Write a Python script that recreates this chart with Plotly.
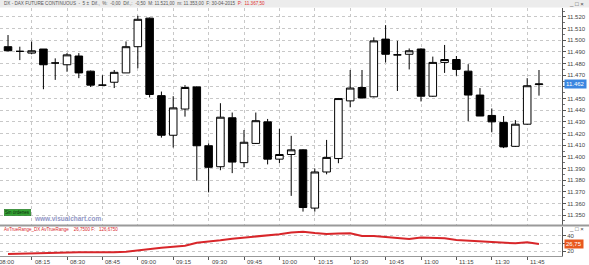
import plotly.graph_objects as go

# ---------------- data ----------------
opens  = [11494.5, 11490.5, 11489, 11492.5, 11480.5, 11479, 11486.5, 11473.5, 11461.5, 11464,
          11472, 11494.5, 11519, 11452.5, 11418.5, 11441, 11460, 11409.5, 11391.5, 11433.5,
          11395, 11411.5, 11430, 11398, 11402, 11406, 11356, 11387, 11398.5, 11448,
          11459.5, 11451.5, 11501, 11487.5, 11488, 11492.5, 11452, 11481, 11483.5, 11473.5,
          11453, 11435.5, 11429.5, 11409, 11428, 11462]
highs  = [11504.5, 11494.5, 11499, 11492.5, 11484.5, 11489, 11489, 11474, 11470, 11474.5,
          11499, 11521, 11519.5, 11456, 11452, 11461.5, 11460.5, 11411.5, 11446, 11438,
          11423, 11438, 11432.5, 11424, 11418, 11406.5, 11390, 11414.5, 11450.5, 11474.5,
          11474.5, 11502.5, 11513, 11499.5, 11493, 11493, 11486, 11496, 11486.5, 11479.5,
          11459, 11441.5, 11435, 11431.5, 11467.5, 11474.5]
lows   = [11490.5, 11483, 11488, 11458, 11466, 11473, 11467.5, 11460, 11461, 11459,
          11472, 11476, 11451, 11416.5, 11408, 11434.5, 11379.5, 11369.5, 11388.5, 11386,
          11391, 11411, 11393.5, 11394.5, 11366.5, 11353, 11353, 11385, 11394.5, 11442.5,
          11450.5, 11451, 11481, 11456.5, 11475, 11447.5, 11451.5, 11472, 11469.5, 11430.5,
          11435, 11421, 11407.5, 11408.5, 11427.5, 11452.5]
closes = [11491, 11490.5, 11491, 11479, 11480.5, 11487.5, 11472, 11461.5, 11461.5, 11472.5,
          11494.5, 11518, 11453.5, 11418.5, 11442, 11459.5, 11409.5, 11391, 11434, 11395.5,
          11412.5, 11431, 11398, 11402, 11406, 11356.5, 11387, 11399.5, 11450, 11459,
          11450.5, 11499.5, 11488, 11487.5, 11491, 11452, 11481, 11483.5, 11475, 11453,
          11435, 11430, 11408.5, 11428, 11461, 11462.5]
atr    = [16.1, 16.5, 17.0, 17.6, 18.2, 18.7, 18.5, 18.3, 18.0, 18.5,
          19.1, 21.0, 23.0, 24.2, 25.6, 26.9, 30.8, 32.2, 34.0, 36.1,
          37.4, 39.0, 40.5, 42.0, 44.2, 45.2, 43.5, 42.2, 42.9, 43.1,
          39.6, 39.6, 38.3, 37.0, 35.7, 37.6, 37.3, 36.6, 34.4, 33.7,
          33.1, 32.0, 31.1, 30.1, 31.4, 29.2]
time_labels = ["08:00", "08:15", "08:30", "08:45", "09:00", "09:15", "09:30", "09:45",
               "10:00", "10:15", "10:30", "10:45", "11:00", "11:15", "11:30", "11:45"]
price_ticks = list(range(11350, 11521, 10))

bars = list(range(len(opens)))
tick_pos = [-1 + 3 * k for k in range(len(time_labels))]

# ---------------- geometry helpers ----------------
W, H = 589, 265
L, R, T, B = 0, 27, 8, 9
PW, PH = W - L - R, H - T - B
xr = [-0.68, 46.95]


def px(x, y):
    return (x - L) / PW, (H - B - y) / PH


def bar_to_paper(v):
    return (v - xr[0]) / (xr[1] - xr[0])


FONT = "Liberation Sans, Arial, sans-serif"

fig = go.Figure()
fig.add_trace(go.Candlestick(
    x=bars, open=opens, high=highs, low=lows, close=closes,
    xaxis="x", yaxis="y",
    increasing=dict(line=dict(color="black", width=1), fillcolor="white"),
    decreasing=dict(line=dict(color="black", width=1), fillcolor="black"),
    whiskerwidth=0, showlegend=False, hoverinfo="skip"))
fig.add_trace(go.Scatter(
    x=bars, y=atr, xaxis="x2", yaxis="y2", mode="lines",
    line=dict(color="#d8262a", width=2), showlegend=False, hoverinfo="skip"))

main_bot = px(0, 225)[1]
ind_top = px(0, 227)[1]

price_text = [("" if v == 11460 else f"{v:,}".replace(",", ".")) for v in price_ticks]

fig.update_layout(
    width=W, height=H, margin=dict(l=L, r=R, t=T, b=B),
    paper_bgcolor="white", plot_bgcolor="white",
    separators=",.",
    boxgap=0.2, boxgroupgap=0.2,
    font=dict(family=FONT, size=6, color="#333"),
    xaxis=dict(domain=[0, 1], range=xr, anchor="y", rangeslider=dict(visible=False),
               showgrid=True, gridcolor="#c8c8c8", griddash="dot", gridwidth=1,
               tickvals=tick_pos, showticklabels=False, ticks="", zeroline=False,
               showline=False),
    yaxis=dict(domain=[main_bot, 1.0], range=[11341.5, 11527.7], side="right",
               tickvals=price_ticks, ticktext=price_text, showgrid=True, gridcolor="#c8c8c8",
               griddash="dot", gridwidth=1, ticks="outside", ticklen=3, tickcolor="#555",
               showline=True, linecolor="#555", linewidth=1, zeroline=False,
               tickfont=dict(size=6, color="#444"),
               minor=dict(dtick=5, tick0=11345, ticks="outside", ticklen=2, tickcolor="#777")),
    xaxis2=dict(domain=[0, 1], range=xr, anchor="y2", showgrid=False,
                tickvals=tick_pos, showticklabels=False, ticks="outside", ticklen=3,
                tickcolor="#555", showline=True, linecolor="#999", zeroline=False),
    yaxis2=dict(domain=[0, ind_top], range=[13.5, 51.4], side="right",
                tickvals=[20, 30, 40], ticktext=["20", "", "40"], showgrid=True,
                gridcolor="#c8c8c8", griddash="dot", ticks="outside", ticklen=3,
                tickcolor="#555", showline=True, linecolor="#555", zeroline=False,
                tickfont=dict(size=6, color="#444")),
)

shapes = []
x0, y0 = px(0, 0); x1, y1 = px(W, 7.5)
shapes.append(dict(type="rect", xref="paper", yref="paper", x0=x0, x1=x1, y0=y1, y1=y0,
                   fillcolor="#ececec", line=dict(width=0), layer="below"))
sx0, sy = px(0, 225.5)
sx1, _ = px(W, 225.5)
shapes.append(dict(type="line", xref="paper", yref="paper", x0=sx0, x1=sx1, y0=sy, y1=sy,
                   line=dict(color="#9a9a9a", width=2)))
fig.update_layout(shapes=shapes)

ann = []
hx, hy = px(2, 3.8)
ann.append(dict(xref="paper", yref="paper", x=hx, y=hy, xanchor="left", yanchor="middle",
                showarrow=False,
                text="DX - DAX FUTURE CONTINUOUS  -  5 ±  Dif.,  %:  -0,00  Dif.,:  -0,50  M: 11.521,00  m: 11.353,00  F: 30-04-2015  <span style='color:#e03030'>P:  11.367,50</span>",
                font=dict(size=4.6, color="#555", family=FONT)))
for yy in (3.8, 228.5):
    ix, iy = px(586, yy)
    ann.append(dict(xref="paper", yref="paper", x=ix, y=iy, xanchor="right", yanchor="middle",
                    showarrow=False, text="_ □ ×", font=dict(size=6, color="#444", family=FONT)))
gx, gy = px(4, 212.5)
ann.append(dict(xref="paper", yref="paper", x=gx, y=gy, xanchor="left", yanchor="middle",
                showarrow=False, text="Sin órdenes", bgcolor="#35a535", bordercolor="#1f6f1f",
                borderwidth=0.5, borderpad=0.5, font=dict(size=4.5, color="#0c2a0c", family=FONT)))
wx, wy = px(32, 218)
ann.append(dict(xref="paper", yref="paper", x=wx, y=wy, xanchor="left", yanchor="middle",
                showarrow=False, text="<b>www.visualchart.com</b>",
                font=dict(size=6.5, color="#9196c6", family=FONT)))
lx, ly = px(2, 229)
ann.append(dict(xref="paper", yref="paper", x=lx, y=ly, xanchor="left", yanchor="middle",
                showarrow=False, text="AvTrueRange_DX AvTrueRange    26,7500 F:   126,6750",
                font=dict(size=4.5, color="#d8262a", family=FONT)))
bx, _ = px(564, 0)
ann.append(dict(xref="paper", yref="y", x=bx, y=closes[-1], xanchor="left", yanchor="middle",
                showarrow=False, text=f"{int(closes[-1]):,}".replace(",", "."),
                bgcolor="#3b86e0", borderpad=1, font=dict(size=6, color="white", family=FONT)))
ann.append(dict(xref="paper", yref="y2", x=bx, y=atr[-1] - 0.4, xanchor="left", yanchor="middle",
                showarrow=False, text="26,75",
                bgcolor="#e8581e", borderpad=1, font=dict(size=6, color="white", family=FONT)))
_, ty = px(0, 261.5)
for pos, lab in zip(tick_pos, time_labels):
    ann.append(dict(xref="paper", yref="paper", x=bar_to_paper(pos), y=ty, xanchor="left",
                    yanchor="middle", xshift=1, showarrow=False, text=lab,
                    font=dict(size=6, color="#444", family=FONT)))
fig.update_layout(annotations=ann)

fig.write_html("out.html")
